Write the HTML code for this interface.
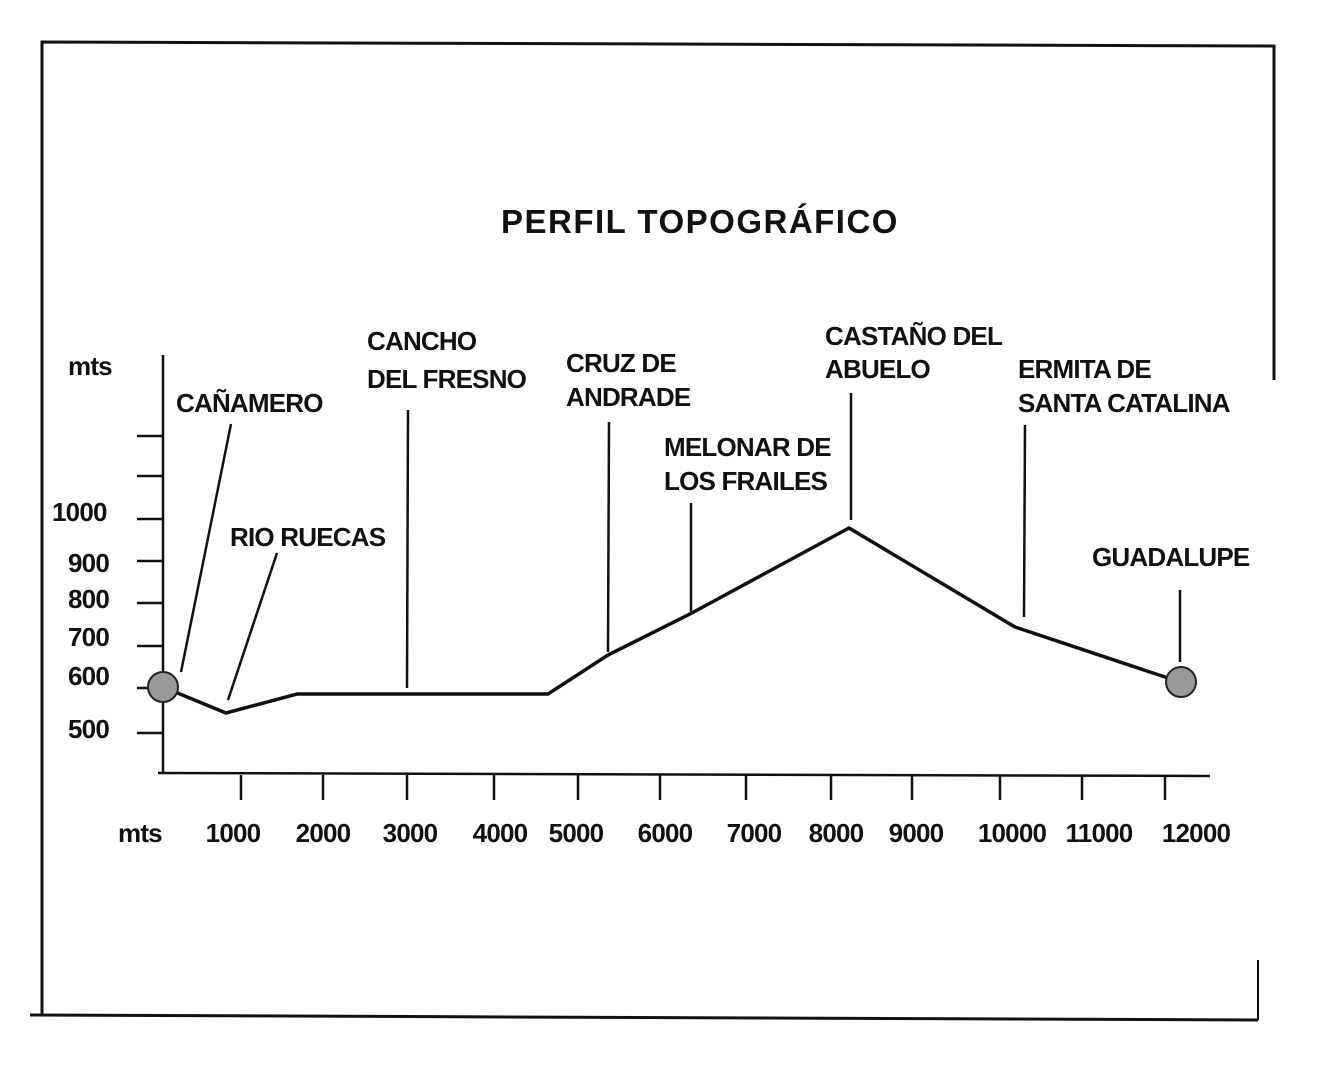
<!DOCTYPE html>
<html><head><meta charset="utf-8"><style>
html,body{margin:0;padding:0;background:#fff;}
svg{display:block;}
text{font-family:"Liberation Sans",Arial,sans-serif;font-weight:bold;fill:#111;letter-spacing:-0.8px;}
</style></head><body>
<svg width="1322" height="1077" viewBox="0 0 1322 1077" xmlns="http://www.w3.org/2000/svg">
<rect width="1322" height="1077" fill="#fff"/>
<g stroke="#111" fill="none">
<polyline points="42,1015 42,42 1274,46 1274,380" stroke-width="3"/>
<line x1="30" y1="1015" x2="1258" y2="1020" stroke-width="3"/>
<line x1="1258" y1="960" x2="1258" y2="1020" stroke-width="2"/>
<line x1="163" y1="355" x2="163" y2="773" stroke-width="2.5"/>
<line x1="158" y1="773" x2="1210" y2="776" stroke-width="2.5"/>
<g stroke-width="2.5">
<line x1="137" y1="436" x2="163" y2="436"/><line x1="137" y1="476" x2="163" y2="476"/>
<line x1="137" y1="519" x2="163" y2="519"/><line x1="137" y1="561" x2="163" y2="561"/>
<line x1="137" y1="603" x2="163" y2="603"/><line x1="137" y1="646" x2="163" y2="646"/>
<line x1="137" y1="688" x2="163" y2="688"/><line x1="137" y1="733" x2="163" y2="733"/>
<line x1="241" y1="775" x2="241" y2="800"/><line x1="323" y1="775" x2="323" y2="800"/>
<line x1="407" y1="775" x2="407" y2="800"/><line x1="494" y1="775" x2="494" y2="800"/>
<line x1="578" y1="775" x2="578" y2="800"/><line x1="660" y1="775" x2="660" y2="800"/>
<line x1="746" y1="775" x2="746" y2="800"/><line x1="831" y1="775" x2="831" y2="800"/>
<line x1="912" y1="775" x2="912" y2="800"/><line x1="1000" y1="775" x2="1000" y2="800"/>
<line x1="1082" y1="775" x2="1082" y2="800"/><line x1="1165" y1="775" x2="1165" y2="800"/>
</g>
<polyline points="163,687 226,713 297,694 548,694 608,655 690,614 849,528 1015,627 1180,682" stroke-width="3.5"/>
<g stroke-width="2.5">
<line x1="231" y1="424" x2="181" y2="672"/><line x1="277" y1="553" x2="228" y2="700"/>
<line x1="408" y1="410" x2="407" y2="688"/><line x1="609" y1="422" x2="608" y2="652"/>
<line x1="691" y1="503" x2="691" y2="612"/><line x1="851" y1="393" x2="851" y2="520"/>
<line x1="1025" y1="425" x2="1024" y2="617"/><line x1="1180" y1="590" x2="1180" y2="662"/>
</g>
</g>
<circle cx="163" cy="687" r="15" fill="#999" stroke="#222" stroke-width="2"/>
<circle cx="1181" cy="682" r="15" fill="#999" stroke="#222" stroke-width="2"/>
<text x="700" y="233" font-size="33" text-anchor="middle" style="letter-spacing:1.5px">PERFIL TOPOGRÁFICO</text>
<g font-size="26">
<text x="68" y="375">mts</text>
<text x="52" y="521">1000</text><text x="68" y="572">900</text><text x="68" y="608">800</text>
<text x="68" y="646">700</text><text x="68" y="685">600</text><text x="68" y="738">500</text>
<text x="118" y="842">mts</text>
<text x="233" y="842" text-anchor="middle">1000</text><text x="323" y="842" text-anchor="middle">2000</text>
<text x="410" y="842" text-anchor="middle">3000</text><text x="500" y="842" text-anchor="middle">4000</text>
<text x="576" y="842" text-anchor="middle">5000</text><text x="665" y="842" text-anchor="middle">6000</text>
<text x="754" y="842" text-anchor="middle">7000</text><text x="836" y="842" text-anchor="middle">8000</text>
<text x="916" y="842" text-anchor="middle">9000</text><text x="1012" y="842" text-anchor="middle">10000</text>
<text x="1099" y="842" text-anchor="middle">11000</text><text x="1196" y="842" text-anchor="middle">12000</text>
<text x="176" y="412">CAÑAMERO</text>
<text x="230" y="546">RIO RUECAS</text>
<text x="367" y="350">CANCHO</text><text x="367" y="388">DEL FRESNO</text>
<text x="566" y="372">CRUZ DE</text><text x="566" y="406">ANDRADE</text>
<text x="664" y="456">MELONAR DE</text><text x="664" y="490">LOS FRAILES</text>
<text x="825" y="345">CASTAÑO DEL</text><text x="825" y="378">ABUELO</text>
<text x="1018" y="378">ERMITA DE</text><text x="1018" y="412">SANTA CATALINA</text>
<text x="1092" y="566">GUADALUPE</text>
</g>
</svg>
</body></html>
